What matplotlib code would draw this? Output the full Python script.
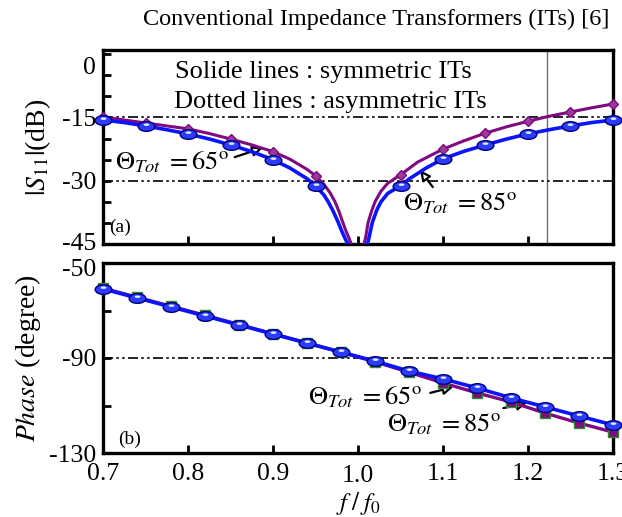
import numpy as np
import matplotlib
matplotlib.use('Agg')
import matplotlib.pyplot as plt
from matplotlib.path import Path
import matplotlib.transforms as mtrans

plt.rcParams['font.family'] = ['Liberation Serif', 'DejaVu Serif']
plt.rcParams['mathtext.fontset'] = 'stix'
plt.rcParams['axes.unicode_minus'] = False

# ---------------- data ----------------
# |S11| (dB) along the curves
f_s11_blue = [0.70, 0.725, 0.75, 0.775, 0.80, 0.825, 0.85, 0.875, 0.90, 0.92, 0.94, 0.95,
              0.96, 0.965, 0.97, 0.976, 0.981, 0.986, 0.991,
              1.010, 1.013, 1.017, 1.022, 1.027, 1.035, 1.05, 1.06, 1.08, 1.10,
              1.125, 1.15, 1.175, 1.20, 1.225, 1.25, 1.275, 1.30]
s11_blue = [-15.6, -16.2, -17.0, -17.9, -18.9, -20.1, -21.5, -23.1, -25.0, -27.0, -29.5, -31.2,
            -33.4, -35.0, -36.9, -39.5, -42.0, -44.2, -46.0,
            -46.0, -43.4, -39.8, -37.0, -35.0, -33.0, -31.2, -29.6, -27.0, -24.8,
            -23.0, -21.5, -20.1, -18.9, -17.9, -17.0, -16.2, -15.6]
f_s11_purple = [0.70, 0.725, 0.75, 0.775, 0.80, 0.825, 0.85, 0.875, 0.90, 0.92, 0.94, 0.95,
                0.96, 0.967, 0.973, 0.978, 0.982, 0.986, 0.989, 0.994,
                1.006, 1.009, 1.012, 1.016, 1.020, 1.027, 1.035, 1.05, 1.07, 1.10,
                1.125, 1.15, 1.175, 1.20, 1.225, 1.25, 1.275, 1.30]
s11_purple = [-14.9, -15.6, -16.3, -17.0, -17.7, -18.8, -20.1, -21.5, -23.1, -24.9, -27.3, -28.8,
              -30.9, -32.8, -35.0, -37.5, -39.8, -42.0, -43.4, -46.0,
              -46.0, -43.4, -39.8, -37.2, -35.0, -32.5, -30.6, -28.6, -25.6, -22.5,
              -20.5, -18.7, -17.2, -15.9, -14.7, -13.7, -12.7, -11.8]
f_s11_markers = [0.70, 0.75, 0.80, 0.85, 0.90, 0.95, 1.05, 1.10, 1.15, 1.20, 1.25, 1.30]

# Phase (degree)
f_phase = [0.70, 0.74, 0.78, 0.82, 0.86, 0.90, 0.94, 0.98,
           1.02, 1.06, 1.10, 1.14, 1.18, 1.22, 1.26, 1.30]
phase_blue = [-60.9, -64.7, -68.5, -72.3, -76.1, -79.9, -83.7, -87.5,
              -91.3, -95.5, -98.8, -102.6, -106.8, -110.6, -114.4, -118.2]
phase_purple = [-60.6, -64.4, -68.2, -72.0, -75.9, -79.8, -83.7, -87.6,
                -91.6, -96.0, -100.5, -104.7, -108.5, -113.2, -117.4, -121.2]

x_ticks = [0.7, 0.8, 0.9, 1.0, 1.1, 1.2, 1.3]
x_ticklabels = ['0.7', '0.8', '0.9', '1.0', '1.1', '1.2', '1.3']
s11_ticks = [0, -15, -30, -45]
s11_minor = [-5, -10, -20, -25, -35, -40]
phase_ticks = [-50, -90, -130]
phase_minor = [-70, -110]

title = 'Conventional Impedance Transformers (ITs) [6]'
lbl65 = r'$\Theta_{Tot}\;=65^{\mathrm{o}}$'
lbl85 = r'$\Theta_{Tot}\;=85^{\mathrm{o}}$'

BLUE = '#0a14ff'
PURPLE = '#800a80'

# flattened ball marker + highlight
ell = Path.unit_circle().transformed(mtrans.Affine2D().scale(1.0, 0.58))
hl = Path.unit_circle().transformed(mtrans.Affine2D().scale(0.35, 0.15).translate(0, 0.22))
hl_ratio = np.max(np.abs(hl.vertices))


def balls(ax, x, y, ms=12):
    ax.plot(x, y, ls='none', marker=ell, ms=ms, mfc='#2b3cff', mec='#00007a', mew=1.0, zorder=6, clip_on=False)
    ax.plot(x, y, ls='none', marker=hl, ms=ms * hl_ratio, mfc='#e6ecff', mec='none', zorder=7, clip_on=False)


def arrow(ax, tail, tip):
    ax.annotate('', xy=tip, xytext=tail,
                arrowprops=dict(arrowstyle='-|>', color='k', fc='white', lw=1.6,
                                shrinkA=0, shrinkB=0, mutation_scale=15))


fig = plt.figure(figsize=(6.22, 5.17), dpi=100)
ax1 = fig.add_axes([103 / 622, 1 - 244 / 517, 510 / 622, 194 / 517])
ax2 = fig.add_axes([103 / 622, 1 - 453 / 517, 510 / 622, 190 / 517])

dashdot = (0, (6, 2, 1.5, 2, 1.5, 2))

# ---------------- (a) |S11| ----------------
ax1.axhline(-15, color='k', lw=1.2, ls=dashdot, zorder=2)
ax1.axhline(-30, color='k', lw=1.2, ls=dashdot, zorder=2)
ax1.axvline(1.222, color='#707070', lw=1.0, zorder=1)

mk_p = [i for i, f in enumerate(f_s11_purple) if f in f_s11_markers]
mk_b = [i for i, f in enumerate(f_s11_blue) if f in f_s11_markers]
ax1.plot(f_s11_purple, s11_purple, color=PURPLE, lw=2.2, zorder=4, solid_joinstyle='round')
ax1.plot(np.array(f_s11_purple)[mk_p], np.array(s11_purple)[mk_p], ls='none', marker='D', ms=5,
         mfc='#9a3a9a', mec=PURPLE, zorder=5, clip_on=False)
ax1.plot(f_s11_blue, s11_blue, color=BLUE, lw=2.6, zorder=4, solid_joinstyle='round')
balls(ax1, np.array(f_s11_blue)[mk_b], np.array(s11_blue)[mk_b])

ax1.set_xlim(0.7, 1.3)
ax1.set_ylim(-45, 1)
ax1.set_xticks(x_ticks)
ax1.set_xticklabels([])
ax1.set_yticks(s11_ticks)
ax1.set_yticks(s11_minor, minor=True)

ax1.text(0.433, 0.887, 'Solide lines : symmetric ITs', transform=ax1.transAxes,
         ha='center', va='center', fontsize=19)
ax1.text(0.445, 0.732, 'Dotted lines : asymmetric ITs', transform=ax1.transAxes,
         ha='center', va='center', fontsize=19)
ax1.text(0.012, 0.085, '(a)', transform=ax1.transAxes, ha='left', va='center', fontsize=14)

ax1.text(0.714, -25.6, lbl65, fontsize=19, ha='left', va='center')
arrow(ax1, (0.855, -24.4), (0.888, -22.2))
ax1.text(1.053, -35.3, lbl85, fontsize=19, ha='left', va='center')
arrow(ax1, (1.088, -31.5), (1.073, -27.5))

ax1.set_ylabel(r'$|S_{11}|$(dB)', fontsize=20, labelpad=6)

# ---------------- (b) Phase ----------------
ax2.axhline(-90, color='k', lw=1.2, ls=dashdot, zorder=2)
ax2.plot(f_phase, phase_purple, color=PURPLE, lw=2.4, zorder=4)
ax2.plot(f_phase, phase_purple, ls='none', marker='s', ms=7, mfc=PURPLE, mec='#2e8b2e', mew=1.0,
         zorder=5, clip_on=False)
ax2.plot(f_phase, phase_blue, color=BLUE, lw=2.6, zorder=5)
balls(ax2, f_phase, phase_blue)

ax2.set_xlim(0.7, 1.3)
ax2.set_ylim(-130, -50)
ax2.set_xticks(x_ticks)
ax2.set_xticklabels(x_ticklabels)
ax2.set_yticks(phase_ticks)
ax2.set_yticks(phase_minor, minor=True)

ax2.text(0.03, 0.07, '(b)', transform=ax2.transAxes, ha='left', va='center', fontsize=14)

ax2.text(0.941, -106.5, lbl65, fontsize=19, ha='left', va='center')
arrow(ax2, (1.085, -104.7), (1.112, -102.2))
ax2.text(1.034, -118.0, lbl85, fontsize=19, ha='left', va='center')
arrow(ax2, (1.171, -111.1), (1.199, -108.9))

ax2.set_ylabel(r'$Phase$ (degree)', fontsize=20, labelpad=4)
ax2.set_xlabel(r'$f\;/\;f_0$', fontsize=18)
ax2.xaxis.set_label_coords(0.5, -0.195)

for ax in (ax1, ax2):
    for s in ax.spines.values():
        s.set_linewidth(2.4)
    ax.tick_params(which='both', direction='in', length=6, width=2, labelsize=18.5,
                   top=False, right=False)
    ax.tick_params(axis='x', pad=7)
    ax.tick_params(axis='y', pad=5)

# small label nudges seen in the picture
def nudge(lbl, dy_px):
    lbl.set_transform(lbl.get_transform() + mtrans.ScaledTranslation(0, dy_px / 100, fig.dpi_scale_trans))

ylab1 = ax1.get_yticklabels()
nudge(ylab1[0], -11)
nudge(ylab1[3], 3)
nudge(ax2.get_yticklabels()[0], -5)
nudge(ax2.get_xticklabels()[3], -2)

fig.text(0.605, 0.962, title, ha='center', va='center', fontsize=17.5)

fig.savefig('out.png', dpi=100)
